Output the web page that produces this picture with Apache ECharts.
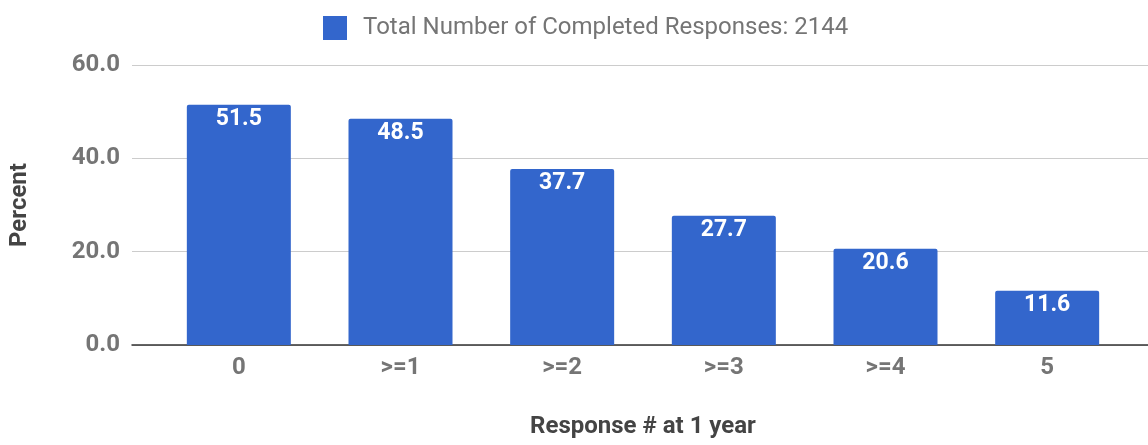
<!DOCTYPE html>
<html>
<head>
<meta charset="utf-8">
<script src="https://cdn.jsdelivr.net/npm/echarts@6/dist/echarts.min.js"></script>
<style>html,body{margin:0;padding:0;background:#fff;}#c{width:1148px;height:445px;}</style>
</head>
<body>
<div id="c"></div>
<script>
const categories = ['0', '>=1', '>=2', '>=3', '>=4', '5'];
const values = [51.5, 48.5, 37.7, 27.7, 20.6, 11.6];
const seriesName = 'Total Number of Completed Responses: 2144';
const xTitle = 'Response # at 1 year';
const yTitle = 'Percent';

const chart = echarts.init(document.getElementById('c'));
const font = 'Roboto, "Noto Sans", sans-serif';
chart.setOption({
  animation: false,
  textStyle: { fontFamily: font },
  legend: {
    top: 11, left: 318,
    itemWidth: 24, itemHeight: 24,
    icon: 'rect',
    textStyle: { fontSize: 24, color: '#757575', fontFamily: font, padding: [0, 0, 0, 11] },
    data: [seriesName]
  },
  grid: [
    { left: 130, right: 0, top: 65, height: 280 },
    { left: 158, right: 20, top: 65, height: 280 }
  ],
  xAxis: [
    { gridIndex: 0, type: 'value', min: 0, max: 1, axisLine: { show: true, onZero: false, lineStyle: { color: '#333', width: 1.5 } }, axisTick: { show: false }, axisLabel: { show: false }, splitLine: { show: false } },
    { gridIndex: 1, type: 'category', data: categories, axisLine: { show: false }, axisTick: { show: false },
      axisLabel: { fontSize: 24, color: '#757575', fontWeight: 'bold', margin: 11, fontFamily: font },
      name: xTitle, nameLocation: 'middle', nameGap: 70,
      nameTextStyle: { fontSize: 24, color: '#444', fontWeight: 'bold', fontFamily: font } }
  ],
  yAxis: [
    { gridIndex: 0, type: 'value', min: 0, max: 60, interval: 20,
      axisLine: { show: false }, axisTick: { show: false },
      axisLabel: { fontSize: 24, color: '#757575', fontWeight: 'bold', margin: 12, formatter: v => v.toFixed(1), fontFamily: font },
      splitLine: { lineStyle: { color: '#cccccc', width: 1 } },
      name: yTitle, nameLocation: 'middle', nameGap: 100,
      nameTextStyle: { fontSize: 24, color: '#444', fontWeight: 'bold', fontFamily: font } },
    { gridIndex: 1, type: 'value', min: 0, max: 60, interval: 20, show: false }
  ],
  series: [{
    name: seriesName, type: 'bar', xAxisIndex: 1, yAxisIndex: 1,
    data: values, barWidth: 104,
    itemStyle: { color: '#3366cc', borderRadius: [2, 2, 0, 0] },
    label: { show: true, position: 'insideTop', distance: 3, color: '#fff', fontSize: 23, fontWeight: 'bold', fontFamily: font, formatter: p => p.value.toFixed(1) }
  }]
});
</script>
</body>
</html>
